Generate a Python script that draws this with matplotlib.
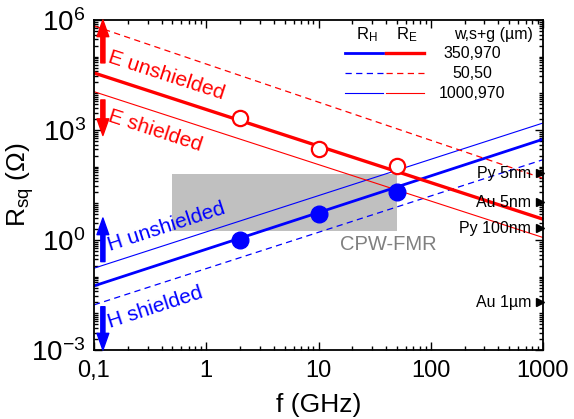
import numpy as np
import matplotlib
matplotlib.use('Agg')
import matplotlib.pyplot as plt
from matplotlib.ticker import FixedLocator, LogLocator, FixedFormatter, NullFormatter

plt.rcParams['font.family'] = ['Liberation Sans', 'DejaVu Sans']

# line end points (f = 0.1 and f = 1000 GHz)
f_ends = [0.1, 1000]
rh_350_970 = [0.056, 560]
rh_50_50 = [0.017, 155]
rh_1000_970 = [0.17, 1550]
re_350_970 = [36000, 3.7]
re_50_50 = [690000, 48]
re_1000_970 = [11100, 1.17]

# measured points
f_meas = [2, 10, 50]
re_meas = [2100, 300, 107]
rh_meas = [1.0, 5.1, 20]

# CPW-FMR region
cpw_f = [0.5, 50]
cpw_r = [1.8, 62]

# materials on right side
mat_names = ['Py 5nm', 'Au 5nm', 'Py 100nm', 'Au 1\u00b5m']
mat_r = [66, 10.7, 2.1, 0.02]

x_ticks = [0.1, 1, 10, 100, 1000]
x_labels = ['0,1', '1', '10', '100', '1000']
y_ticks = [1e-3, 1, 1e3, 1e6]
y_labels = ['$\\mathregular{10^{-3}}$', '$\\mathregular{10^{0}}$',
            '$\\mathregular{10^{3}}$', '$\\mathregular{10^{6}}$']

red = '#ff0000'
blue = '#0000ff'

fig = plt.figure(figsize=(5.74, 4.19), dpi=100)
ax = fig.add_axes([94/574, 69/419, 449/574, 330/419])
ax.set_xscale('log')
ax.set_yscale('log')
ax.set_xlim(0.1, 1000)
ax.set_ylim(1e-3, 1e6)

ax.fill_between(cpw_f, cpw_r[0], cpw_r[1], color='#c0c0c0', lw=0, zorder=0.5)
ax.text(15.5, 0.55, 'CPW-FMR', color='#808080', fontsize=14.5, ha='left', va='baseline')

ax.plot(f_ends, rh_350_970, color=blue, lw=2.0)
ax.plot(f_ends, rh_50_50, color=blue, lw=0.9, ls=(0, (5, 3.5)))
ax.plot(f_ends, rh_1000_970, color=blue, lw=0.8)
ax.plot(f_ends, re_350_970, color=red, lw=2.4)
ax.plot(f_ends, re_50_50, color=red, lw=0.9, ls=(0, (5, 3.5)))
ax.plot(f_ends, re_1000_970, color=red, lw=0.8)

ax.plot(f_meas, re_meas, 'o', mfc='white', mec=red, mew=1.6, ms=11, ls='none', zorder=4)
ax.plot(f_meas, rh_meas, 'o', color=blue, ms=12, ls='none', zorder=4)

# material markers
for name, r in zip(mat_names, mat_r):
    ax.plot(950, r, '>', color='black', ms=6, clip_on=False, zorder=5)
    ax.text(780, r, name, fontsize=11.5, ha='right', va='center', zorder=5)

# arrows and labels
arr = dict(width=3, headwidth=8.5, headlength=12, shrink=0)
ax.annotate('', xy=(0.12, 1e6), xytext=(0.12, 10**4.83),
            arrowprops=dict(color=red, **arr))
ax.annotate('', xy=(0.12, 10**2.85), xytext=(0.12, 10**3.82),
            arrowprops=dict(color=red, **arr))
ax.annotate('', xy=(0.12, 10**0.6), xytext=(0.12, 10**-0.59),
            arrowprops=dict(color=blue, **arr))
ax.annotate('', xy=(0.12, 1e-3), xytext=(0.12, 10**-1.82),
            arrowprops=dict(color=blue, **arr))

ax.text(0.13, 70000, 'E unshielded', color=red, fontsize=15, rotation=-18,
        rotation_mode='anchor', ha='left', va='baseline')
ax.text(0.13, 1800, 'E shielded', color=red, fontsize=15, rotation=-18,
        rotation_mode='anchor', ha='left', va='baseline')
ax.text(0.139, 0.5, 'H unshielded', color=blue, fontsize=15, rotation=18,
        rotation_mode='anchor', ha='left', va='baseline')
ax.text(0.139, 0.004, 'H shielded', color=blue, fontsize=15, rotation=18,
        rotation_mode='anchor', ha='left', va='baseline')

# legend drawn by hand
tr = ax.transAxes
ax.text(0.608, 0.955, '$\\mathregular{R_H}$', transform=tr, fontsize=12, ha='center', va='center')
ax.text(0.697, 0.955, '$\\mathregular{R_E}$', transform=tr, fontsize=12, ha='center', va='center')
ax.text(0.978, 0.955, 'w,s+g (\u00b5m)', transform=tr, fontsize=11.5, ha='right', va='center')
rows = [0.899, 0.838, 0.778]
styles = [(2.0, 2.4, '-'), (0.9, 0.9, (0, (5, 3.5))), (0.8, 0.8, '-')]
names = ['350,970', '50,50', '1000,970']
for yy, (lwb, lwr, ls), nm in zip(rows, styles, names):
    ax.plot([0.559, 0.644], [yy, yy], color=blue, lw=lwb, ls=ls, transform=tr)
    ax.plot([0.650, 0.735], [yy, yy], color=red, lw=lwr, ls=ls, transform=tr)
    ax.text(0.842, yy, nm, transform=tr, fontsize=11.5, ha='center', va='center')

# axes style
ax.xaxis.set_major_locator(FixedLocator(x_ticks))
ax.xaxis.set_major_formatter(FixedFormatter(x_labels))
ax.xaxis.set_minor_locator(LogLocator(base=10, subs=np.arange(2, 10), numticks=20))
ax.xaxis.set_minor_formatter(NullFormatter())
ax.yaxis.set_major_locator(FixedLocator(y_ticks))
ax.yaxis.set_major_formatter(FixedFormatter(y_labels))
ax.yaxis.set_minor_locator(LogLocator(base=10, subs=np.arange(1, 10), numticks=30))
ax.yaxis.set_minor_formatter(NullFormatter())

ax.tick_params(which='both', direction='in', top=True, right=True, width=1)
ax.tick_params(which='major', length=6)
ax.tick_params(which='minor', length=3)
ax.tick_params(axis='x', which='major', labelsize=17, pad=7)
ax.tick_params(axis='y', which='major', labelsize=20, pad=6)
for s in ax.spines.values():
    s.set_linewidth(1.3)

ax.set_xlabel('f (GHz)', fontsize=19)
ax.set_ylabel('$\\mathregular{R_{sq}}$ (\u03a9)', fontsize=19)
ax.xaxis.set_label_coords(0.5, -0.13)
ax.yaxis.set_label_coords(-0.13, 0.5)

fig.savefig('out.png', dpi=100)
